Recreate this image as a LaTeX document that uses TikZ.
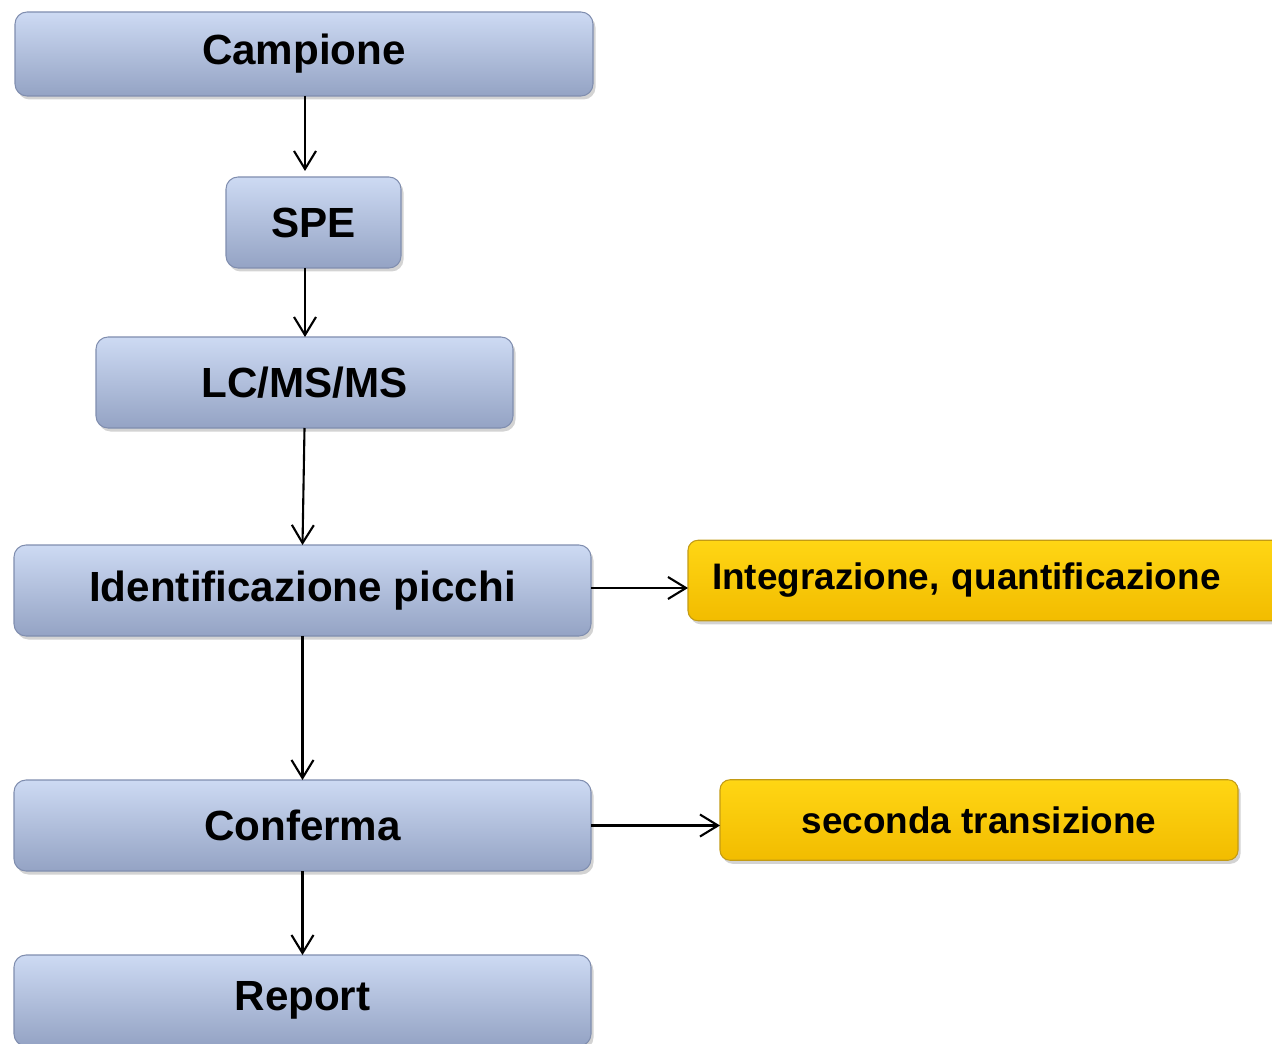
\documentclass[tikz,border=0pt]{standalone}
\usepackage{fontspec}
\setmainfont{Liberation Sans}
\usetikzlibrary{positioning}
\usetikzlibrary{shadows}
\usetikzlibrary{arrows.meta}

\definecolor{bluetop}{RGB}{205,218,243}
\definecolor{bluemid}{RGB}{184,201,236}
\definecolor{bluebot}{RGB}{148,163,196}
\definecolor{blueline}{RGB}{128,142,175}
\definecolor{goldtop}{RGB}{255,214,20}
\definecolor{goldmid}{RGB}{255,204,0}
\definecolor{goldbot}{RGB}{242,188,0}
\definecolor{goldline}{RGB}{195,155,20}

\begin{document}
\begin{tikzpicture}[line width=1.2pt,
  stepbox/.style={rounded corners=0.24cm,draw=blueline,line width=0.6pt,
    top color=bluetop,middle color=bluemid,bottom color=bluebot,
    drop shadow={shadow xshift=0.05cm,shadow yshift=-0.07cm,opacity=0.35},
    inner sep=0pt,outer sep=0pt,minimum height=1.82cm,
    font=\fontsize{24}{28}\selectfont\bfseries},
  resultbox/.style={rounded corners=0.2cm,draw=goldline,line width=0.6pt,
    top color=goldtop,middle color=goldmid,bottom color=goldbot,
    drop shadow={shadow xshift=0.05cm,shadow yshift=-0.07cm,opacity=0.35},
    inner sep=0pt,outer sep=0pt,minimum height=1.61cm,
    font=\fontsize{21}{25}\selectfont\bfseries},
  flow/.style={-{Straight Barb[length=0.36cm,width=0.44cm,line width=1.2pt]}}]
  \useasboundingbox (0,0) rectangle (25.44,-20.88);
  \node[stepbox,minimum width=11.56cm,minimum height=1.68cm](campione) at (6.08,-1.08) {Campione};
  \node[stepbox,minimum width=3.5cm,below=1.62 of campione,xshift=0.19cm](spe) {SPE};
  \node[stepbox,minimum width=8.34cm,below=1.38 of spe,xshift=-0.18cm](lcms) {LC/MS/MS};
  \node[stepbox,minimum width=11.54cm,below=2.34 of lcms,xshift=-0.04cm](ident) {Identificazione picchi};
  \node[stepbox,minimum width=11.54cm,below=2.88 of ident](conferma) {Conferma};
  \node[stepbox,minimum width=11.54cm,below=1.68 of conferma](report) {Report};
  \node[resultbox,right=1.94 of ident,yshift=0.2cm,text width=12cm,align=left,inner xsep=0.48cm](integr) {Integrazione, quantificazione};
  \node[resultbox,minimum width=10.36cm,right=2.58 of conferma,yshift=0.11cm](seconda) {seconda transizione};
  \draw[flow] (campione.south -| spe.north) ++(-0.17,0) coordinate (c1) -- ([yshift=0.12cm]c1 |- spe.north);
  \draw[flow] (lcms.north -| c1) coordinate (c2) ++(0,1.38) -- (c2);
  \draw[flow] (lcms.south) -- (ident.north);
  \draw[flow] (ident.south) -- (conferma.north);
  \draw[flow] (conferma.south) -- (report.north);
  \draw[flow] (ident.east) ++(0,0.05) coordinate (i1) -- (i1 -| integr.west);
  \draw[flow] (conferma.east) -- (conferma.east -| seconda.west);
\end{tikzpicture}
\end{document}
